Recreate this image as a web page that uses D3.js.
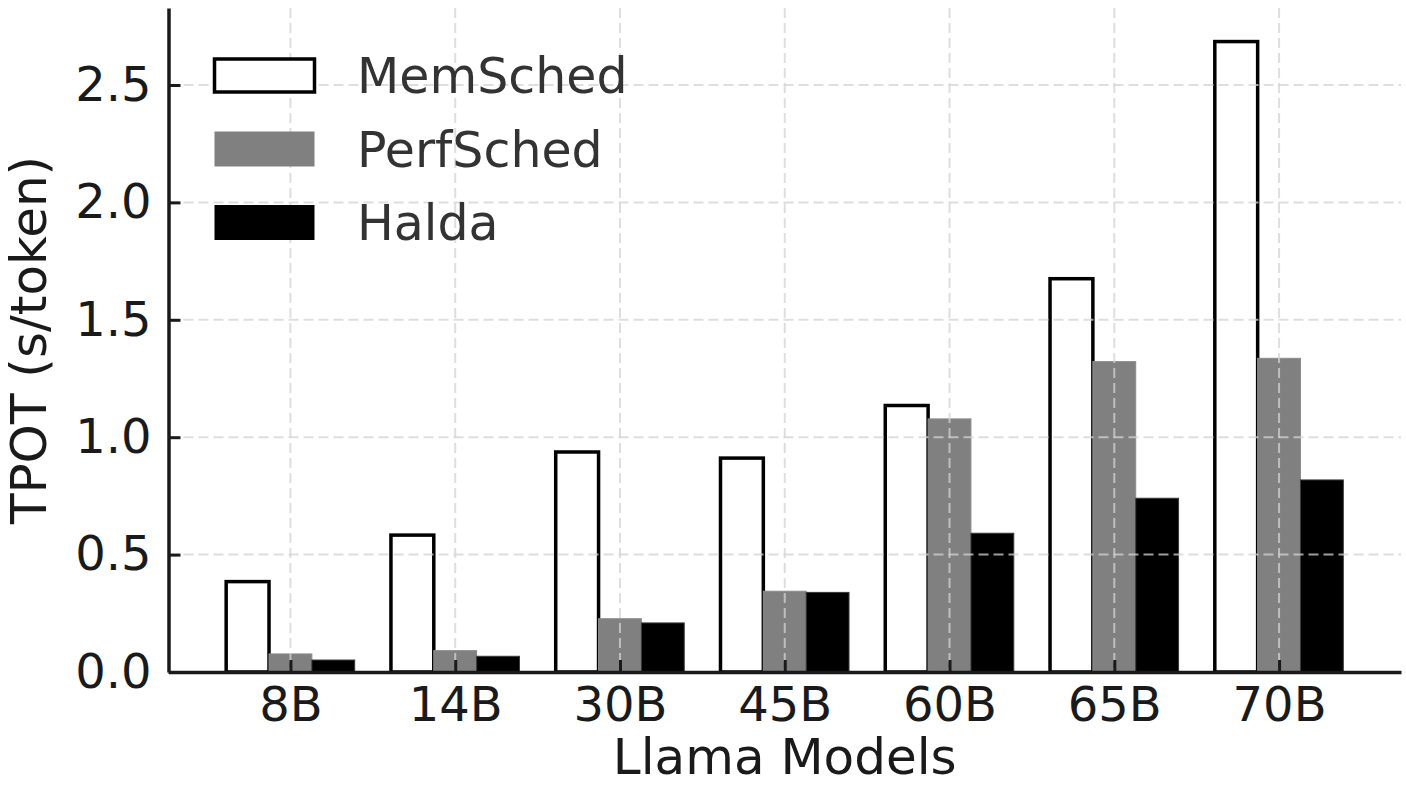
<!DOCTYPE html>
<html>
<head>
<meta charset="utf-8">
<script src="https://cdn.jsdelivr.net/npm/d3@7.9.0/dist/d3.min.js"></script>
<style>
  body { margin: 0; background: #fff; }
  text { font-family: "DejaVu Sans", sans-serif; }
</style>
</head>
<body>
<svg id="chart"></svg>
<script>
// Data
const models = ["8B", "14B", "30B", "45B", "60B", "65B", "70B"];
const memSched = [0.385, 0.583, 0.937, 0.911, 1.135, 1.675, 2.685];
const perfSched = [0.077, 0.091, 0.227, 0.344, 1.078, 1.322, 1.336];
const halda = [0.051, 0.067, 0.209, 0.339, 0.591, 0.740, 0.818];
const yTicks = [0, 0.5, 1.0, 1.5, 2.0, 2.5];

const seriesList = [
  { name: "MemSched", values: memSched, fill: "#ffffff", stroke: "#000", sw: 3.5 },
  { name: "PerfSched", values: perfSched, fill: "#808080", stroke: "#8c8c8c", sw: 1 },
  { name: "Halda", values: halda, fill: "#000000", stroke: "#3a3a3a", sw: 1 }
];

const W = 1406, H = 797;
const plotL = 168.5, plotR = 1401, plotT = 8, plotB = 672;
const barW = 0.26;

const svg = d3.select("#chart").attr("width", W).attr("height", H);

const x = d3.scaleLinear().domain([-0.74, 6.74]).range([plotL, plotR]);
const y = d3.scaleLinear().domain([0, (plotB - plotT) / 234.8]).range([plotB, plotT]);

// Bars
seriesList.forEach((s, k) => {
  svg.append("g").selectAll("rect")
    .data(s.values)
    .join("rect")
    .attr("x", (d, i) => x(i + (k - 1.5) * barW))
    .attr("width", x(barW) - x(0))
    .attr("y", d => y(d))
    .attr("height", d => y(0) - y(d))
    .attr("fill", s.fill)
    .attr("stroke", s.stroke)
    .attr("stroke-width", s.sw);
});

// Grid (drawn over bars, like matplotlib)
const grid = svg.append("g")
  .attr("stroke", "#d3d3d3")
  .attr("stroke-opacity", 0.75)
  .attr("stroke-width", 2)
  .attr("stroke-dasharray", "10,5");

grid.selectAll(".hg")
  .data(yTicks.slice(1))
  .join("line")
  .attr("class", "hg")
  .attr("x1", plotL).attr("x2", plotR)
  .attr("y1", d => y(d)).attr("y2", d => y(d));

grid.selectAll(".vg")
  .data(models)
  .join("line")
  .attr("class", "vg")
  .attr("x1", (d, i) => x(i)).attr("x2", (d, i) => x(i))
  .attr("y1", plotT).attr("y2", plotB);

// Axes
const xAxis = svg.append("g")
  .attr("transform", `translate(0,${plotB})`)
  .call(d3.axisBottom(x)
    .tickValues(d3.range(models.length))
    .tickFormat(i => models[i])
    .tickSizeInner(-12).tickSizeOuter(0).tickPadding(15));

const yAxis = svg.append("g")
  .attr("transform", `translate(${plotL},0)`)
  .call(d3.axisLeft(y)
    .tickValues(yTicks)
    .tickFormat(d3.format(".1f"))
    .tickSizeInner(-12).tickSizeOuter(0).tickPadding(17));

[xAxis, yAxis].forEach(a => {
  a.select(".domain").attr("stroke", "#1a1a1a").attr("stroke-width", 3.5);
  a.selectAll(".tick line").attr("stroke", "#1a1a1a").attr("stroke-width", 3);
  a.selectAll(".tick text")
    .attr("fill", "#1a1a1a")
    .style("font-size", "48px")
    .style("font-family", "'DejaVu Sans', sans-serif");
});

// Axis labels
svg.append("text")
  .attr("x", (plotL + plotR) / 2)
  .attr("y", 774)
  .attr("text-anchor", "middle")
  .attr("fill", "#1a1a1a")
  .style("font-size", "50px")
  .text("Llama Models");

svg.append("text")
  .attr("transform", `translate(46,${(plotT + plotB) / 2}) rotate(-90)`)
  .attr("text-anchor", "middle")
  .attr("fill", "#1a1a1a")
  .style("font-size", "50px")
  .text("TPOT (s/token)");

// Legend
const legend = svg.append("g").attr("transform", "translate(214.5,58)");

const rows = legend.selectAll("g")
  .data(seriesList)
  .join("g")
  .attr("transform", (d, i) => `translate(0,${i * 73.5})`);

rows.append("rect")
  .attr("width", 100)
  .attr("height", d => d.name === "MemSched" ? 33 : 35)
  .attr("y", d => d.name === "MemSched" ? 1 : 0)
  .attr("fill", d => d.fill)
  .attr("stroke", d => d.name === "MemSched" ? "#000" : "none")
  .attr("stroke-width", 3.5);

rows.append("text")
  .attr("x", 142.5)
  .attr("y", 35)
  .attr("fill", "#333")
  .style("font-size", "49px")
  .text(d => d.name);
</script>
</body>
</html>
